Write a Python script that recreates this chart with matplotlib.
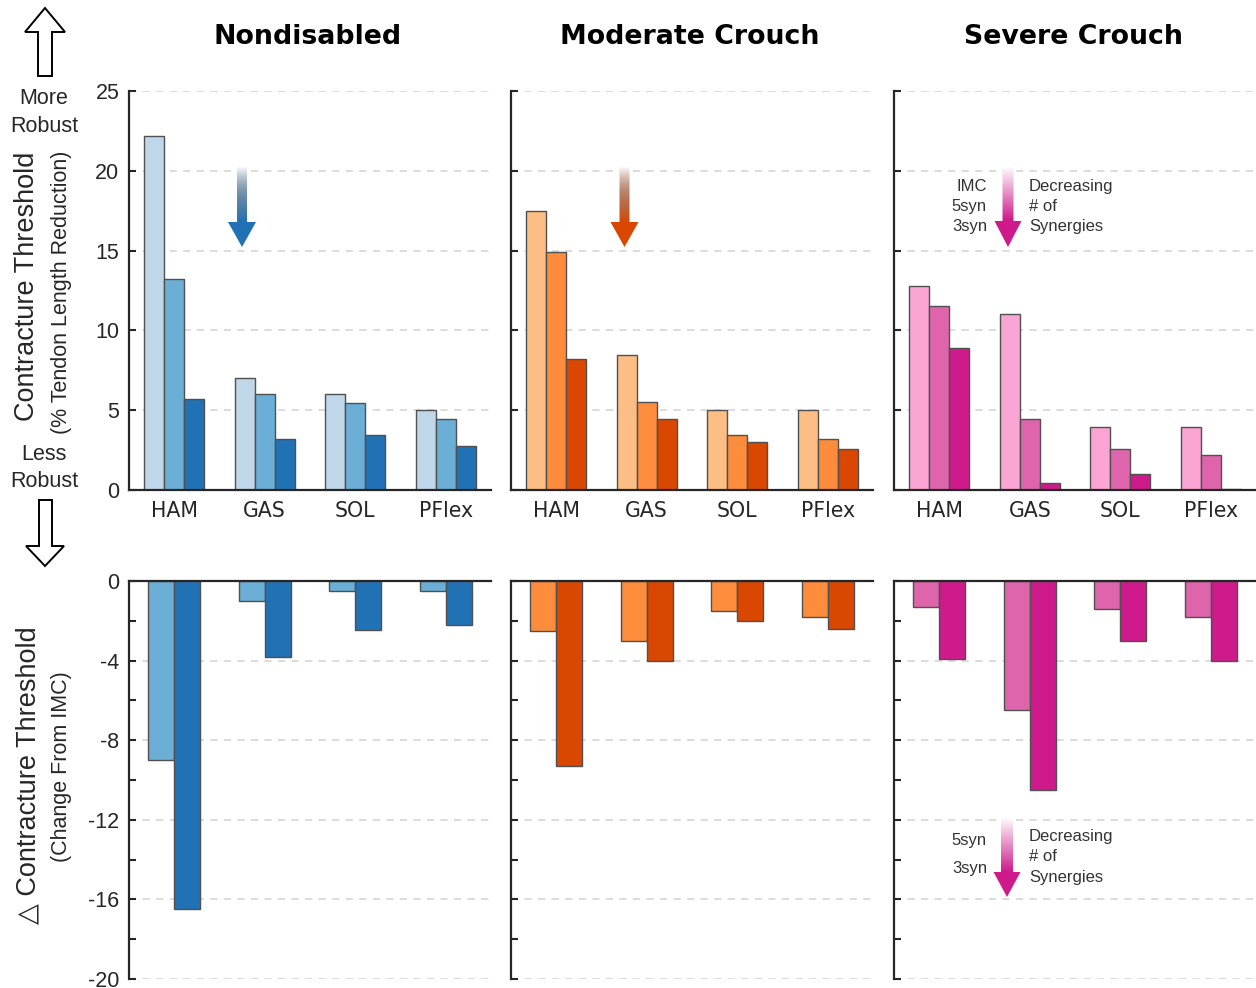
import numpy as np
import matplotlib
matplotlib.use('Agg')
import matplotlib.pyplot as plt
from matplotlib.patches import Polygon
from matplotlib.ticker import MultipleLocator

plt.rcParams['axes.unicode_minus'] = False

# ---------------- data ----------------
muscles = ['HAM', 'GAS', 'SOL', 'PFlex']
groups = ['Nondisabled', 'Moderate Crouch', 'Severe Crouch']

nd_imc = [22.2, 7.0, 6.0, 5.0]
nd_5syn = [13.2, 6.0, 5.45, 4.45]
nd_3syn = [5.7, 3.2, 3.45, 2.75]
mc_imc = [17.5, 8.45, 5.0, 5.0]
mc_5syn = [14.9, 5.5, 3.45, 3.2]
mc_3syn = [8.2, 4.45, 3.0, 2.6]
sc_imc = [12.8, 11.0, 3.95, 3.95]
sc_5syn = [11.5, 4.45, 2.6, 2.2]
sc_3syn = [8.9, 0.45, 1.0, 0.05]

nd_d5 = [-9.0, -1.0, -0.5, -0.5]
nd_d3 = [-16.5, -3.8, -2.45, -2.2]
mc_d5 = [-2.5, -3.0, -1.5, -1.8]
mc_d3 = [-9.3, -4.0, -2.0, -2.4]
sc_d5 = [-1.3, -6.5, -1.4, -1.8]
sc_d3 = [-3.9, -10.5, -3.0, -4.0]

top_vals = [(nd_imc, nd_5syn, nd_3syn), (mc_imc, mc_5syn, mc_3syn), (sc_imc, sc_5syn, sc_3syn)]
bot_vals = [(nd_d5, nd_d3), (mc_d5, mc_d3), (sc_d5, sc_d3)]

palettes = [
    ['#BFD7E8', '#6BAED6', '#2171B5'],
    ['#FDBE85', '#FD8D3C', '#D94701'],
    ['#FAA5D4', '#DE65AC', '#CE1A8A'],
]

# ---------------- figure ----------------
W, H = 1256, 988
fig = plt.figure(figsize=(W / 100, H / 100), dpi=100)

def add_ax(x0, y0, x1, y1):
    return fig.add_axes([x0 / W, 1 - y1 / H, (x1 - x0) / W, (y1 - y0) / H])

def fx(x):
    return x / W

def fy(y):
    return 1 - y / H

AX_COL = '#262626'
GRID_COL = '#d9d9d9'
EDGE = '#505050'
lefts = [129, 511, 894]
PW = 362
x = np.arange(1, len(muscles) + 1)

for i in range(3):
    L = lefts[i]
    cols = palettes[i]
    # top panel
    ax = add_ax(L, 91, L + PW, 490)
    imc, s5, s3 = top_vals[i]
    bw = 0.222
    ax.bar(x - bw, imc, bw, color=cols[0], edgecolor=EDGE, linewidth=1, zorder=2)
    ax.bar(x, s5, bw, color=cols[1], edgecolor=EDGE, linewidth=1, zorder=2)
    ax.bar(x + bw, s3, bw, color=cols[2], edgecolor=EDGE, linewidth=1, zorder=2)
    ax.set_xlim(0.5, 4.5)
    ax.set_ylim(0, 25)
    ax.set_yticks(np.arange(0, 26, 5))
    ax.set_xticks(x)
    ax.set_xticklabels(muscles, fontsize=14.8, family='DejaVu Sans', color=AX_COL)
    for sp in ['top', 'right']:
        ax.spines[sp].set_visible(False)
    for sp in ['left', 'bottom']:
        ax.spines[sp].set_linewidth(1.6)
        ax.spines[sp].set_color(AX_COL)
        ax.spines[sp].set_zorder(3)
    ax.tick_params(axis='both', direction='in', length=5, width=1.5, color=AX_COL)
    ax.tick_params(axis='x', pad=8)
    ax.tick_params(axis='y', pad=7)
    if i == 0:
        for t in ax.get_yticklabels():
            t.set_fontfamily('Liberation Sans')
            t.set_fontsize(15.5)
            t.set_color(AX_COL)
    else:
        ax.set_yticklabels([])
    ax.yaxis.grid(True, color=GRID_COL, linestyle=(0, (4, 3.5)), linewidth=1.3)
    ax.set_axisbelow(True)
    ax.patch.set_alpha(0)

    # bottom panel
    axb = add_ax(L, 581, L + PW, 979)
    d5, d3 = bot_vals[i]
    bw2 = 0.288
    axb.bar(x - bw2 / 2, d5, bw2, color=cols[1], edgecolor=EDGE, linewidth=1, zorder=2)
    axb.bar(x + bw2 / 2, d3, bw2, color=cols[2], edgecolor=EDGE, linewidth=1, zorder=2)
    axb.set_xlim(0.5, 4.5)
    axb.set_ylim(-20, 0)
    axb.yaxis.set_major_locator(MultipleLocator(4))
    axb.yaxis.set_minor_locator(MultipleLocator(2))
    axb.xaxis.tick_top()
    axb.set_xticks(x)
    axb.set_xticklabels([])
    for sp in ['bottom', 'right']:
        axb.spines[sp].set_visible(False)
    for sp in ['left', 'top']:
        axb.spines[sp].set_linewidth(1.6)
        axb.spines[sp].set_color(AX_COL)
        axb.spines[sp].set_zorder(3)
    axb.tick_params(axis='both', which='both', direction='in', length=5, width=1.5, color=AX_COL)
    axb.tick_params(axis='y', pad=7)
    if i == 0:
        axb.set_yticks(np.arange(-20, 1, 4))
        axb.set_yticklabels([str(v) for v in np.arange(-20, 1, 4)],
                            fontfamily='Liberation Sans', fontsize=15.5, color=AX_COL)
    else:
        axb.set_yticklabels([])
    axb.yaxis.grid(True, which='major', color=GRID_COL, linestyle=(0, (4, 3.5)), linewidth=1.3)
    axb.set_axisbelow(True)
    axb.patch.set_alpha(0)

    # title
    fig.text(fx(L + PW / 2 - 2), fy(37), groups[i], ha='center', va='center',
             fontsize=19.3, fontweight='bold', family='DejaVu Sans', color='black')

# ---------------- side labels ----------------
SANS = ['Liberation Sans', 'DejaVu Sans']
TXT = '#262626'
fig.text(fx(27.5), fy(286), 'Contracture Threshold', rotation=90, ha='center', va='center',
         fontsize=19.5, family=SANS, color=TXT)
fig.text(fx(61), fy(292), '(% Tendon Length Reduction)', rotation=90, ha='center', va='center',
         fontsize=15.5, family=SANS, color=TXT)
fig.text(fx(28.5), fy(775), '\u25B3 Contracture Threshold', rotation=90, ha='center', va='center',
         fontsize=19.5, family=SANS, color=TXT)
fig.text(fx(61), fy(767), '(Change From IMC)', rotation=90, ha='center', va='center',
         fontsize=15.5, family=SANS, color=TXT)
for txt, yy in [('More', 99), ('Robust', 126), ('Less', 454), ('Robust', 481)]:
    fig.text(fx(44), fy(yy), txt, ha='center', va='center', fontsize=15.5, family=SANS, color=TXT)

# ---------------- decorations (pixel overlay) ----------------
ov = fig.add_axes([0, 0, 1, 1], zorder=10)
ov.set_xlim(0, W)
ov.set_ylim(H, 0)
ov.axis('off')

up = [(45, 8), (65, 32), (52, 32), (52, 76), (38, 76), (38, 32), (25, 32)]
down = [(39, 500), (52, 500), (52, 546), (64, 546), (45, 566), (26, 546), (39, 546)]
for pts in (up, down):
    ov.add_patch(Polygon(pts, closed=True, facecolor='white', edgecolor='black', linewidth=1.4))

def grad_arrow(cx, top, hbase, tip, shw, hhw, color, gray_mid=True):
    pts = [(cx - shw, top), (cx + shw, top), (cx + shw, hbase), (cx + hhw, hbase),
           (cx, tip), (cx - hhw, hbase), (cx - shw, hbase)]
    poly = Polygon(pts, closed=True, facecolor='none', edgecolor='none')
    ov.add_patch(poly)
    c = np.array(matplotlib.colors.to_rgb(color))
    n = 200
    ys = np.linspace(top, tip, n)
    t = np.clip((ys - top) / (hbase - top), 0, 1)
    rgb = (1 - t)[:, None] * np.ones(3) + t[:, None] * c
    if gray_mid:
        rgb = rgb * (1 - 0.22 * np.sin(np.pi * t))[:, None]
    img = np.clip(rgb, 0, 1)[:, None, :]
    im = ov.imshow(img, extent=[cx - hhw - 1, cx + hhw + 1, tip, top], origin='upper',
                   aspect='auto', interpolation='bilinear', zorder=5)
    im.set_clip_path(poly)

grad_arrow(242, 167, 222, 247, 5, 14, palettes[0][2])
grad_arrow(624.5, 167, 222, 247, 5, 14, palettes[1][2])
grad_arrow(1008, 167, 221, 247, 5.5, 13.5, palettes[2][2], gray_mid=False)
grad_arrow(1007, 817, 872, 897, 6, 13.5, palettes[2][2], gray_mid=False)
ov.set_xlim(0, W)
ov.set_ylim(H, 0)

small = dict(fontsize=12, family=SANS, color='#333333', va='center')
for txt, yy in [('IMC', 186), ('5syn', 206.5), ('3syn', 226.5)]:
    fig.text(fx(987), fy(yy), txt, ha='right', **small)
for txt, yy in [('Decreasing', 186), ('# of', 206.5), ('Synergies', 226.5)]:
    fig.text(fx(1029), fy(yy), txt, ha='left', **small)
for txt, yy in [('5syn', 841), ('3syn', 868.5)]:
    fig.text(fx(987), fy(yy), txt, ha='right', **small)
for txt, yy in [('Decreasing', 836), ('# of', 856.5), ('Synergies', 877)]:
    fig.text(fx(1029), fy(yy), txt, ha='left', **small)

fig.savefig('out.png', dpi=100)
